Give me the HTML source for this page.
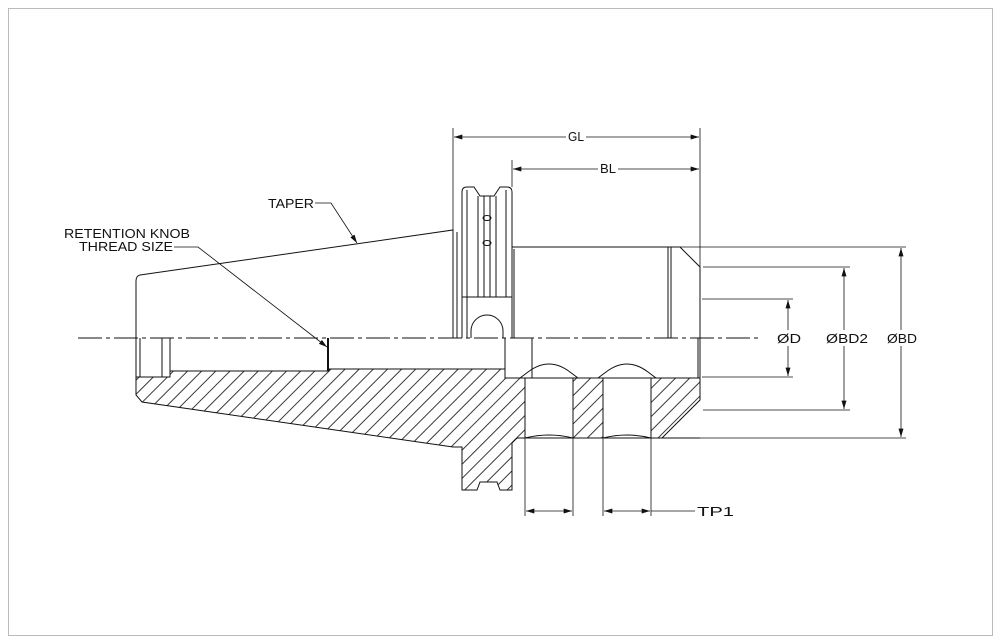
<!DOCTYPE html>
<html><head><meta charset="utf-8"><style>
html,body{margin:0;padding:0;background:#fff}
svg{display:block}
text{font-family:"Liberation Sans",sans-serif;font-size:13px;fill:#111}
</style></head><body>
<svg width="1001" height="644" viewBox="0 0 1001 644" xmlns="http://www.w3.org/2000/svg">
<defs>
<pattern id="h" patternUnits="userSpaceOnUse" width="10" height="10" patternTransform="rotate(-45)">
<line x1="0" y1="5" x2="10" y2="5" stroke="#222" stroke-width="0.9"/>
</pattern>
<marker id="a" viewBox="0 0 10 6" refX="10" refY="3" markerWidth="14" markerHeight="5" orient="auto-start-reverse" markerUnits="userSpaceOnUse"><path d="M0,0L10,3L0,6z" fill="#111"/></marker>
</defs>
<rect x="8.5" y="8.5" width="984" height="627" fill="#fff" stroke="#bbb" stroke-width="1"/>
<g stroke="#111" stroke-width="1" fill="none">
<path d="M136,377 L170,377 L170,371 L329,371 L329,369 L505,369 L505,378 L700,378 L700,400 L662,438 L517,438 L512,443 L512,490 L500,490 L497,482 L480,482 L477,490 L462,490 L462,447 L453,447 L142,402 L136,395 Z" fill="url(#h)"/>
<path d="M525,378 L525,438 L573,438 L573,378 Z" fill="#fff"/>
<path d="M603,378 L603,438 L651,438 L651,378 Z" fill="#fff"/>
<path d="M520,378 L528,372 Q549,356 570,372 L578,378 Z" fill="#fff"/>
<path d="M598,378 L606,372 Q627,356 648,372 L656,378 Z" fill="#fff"/>
<path d="M525,438 Q549,432 573,438 M603,438 Q627,432 651,438"/>
<line x1="505" y1="378" x2="700" y2="378"/>
<line x1="517" y1="438" x2="700" y2="438"/>
<path d="M140,275 L453,230 L453,338"/>
<path d="M136,395 L136,281 Q136,276 140,275"/>
<line x1="457" y1="232" x2="457" y2="338"/>
<line x1="162" y1="338" x2="162" y2="377"/><line x1="170" y1="338" x2="170" y2="371"/>
<line x1="140" y1="338" x2="140" y2="377"/>
<path d="M328,338 L328,371" stroke-width="2"/>
<path d="M462,338 L462,192 Q462,187 467,187 L474,187 L480,196 L494,196 L500,187 L507,187 Q512,187 512,192 L512,338"/>
<line x1="467" y1="190" x2="467" y2="338"/>
<line x1="478" y1="196" x2="478" y2="297"/><line x1="484" y1="196" x2="484" y2="297"/>
<line x1="490" y1="196" x2="490" y2="297"/><line x1="496" y1="196" x2="496" y2="297"/>
<line x1="506" y1="190" x2="506" y2="297"/>
<line x1="462" y1="297" x2="512" y2="297"/>
<ellipse cx="487" cy="218" rx="4" ry="2.5"/><ellipse cx="487" cy="243" rx="4" ry="2.5"/>
<path d="M471,338 L471,331 A16,16 0 0 1 503,331 L503,338"/>
<path d="M512,247 L680,247 L700,267 L700,378"/>
<line x1="514" y1="249" x2="514" y2="338"/>
<line x1="668" y1="247" x2="668" y2="338"/><line x1="671" y1="247" x2="671" y2="338"/>
<line x1="505" y1="338" x2="505" y2="378"/><line x1="532" y1="338" x2="532" y2="378"/>
<line x1="698" y1="338" x2="698" y2="378"/>
<line x1="700" y1="378" x2="700" y2="400"/>
<line x1="78" y1="338" x2="758" y2="338" stroke-dasharray="24,4,4,4"/>
<line x1="680" y1="247" x2="906" y2="247" stroke-width="0.8"/>
<line x1="703" y1="267" x2="850" y2="267" stroke-width="0.8"/>
<line x1="702" y1="299" x2="793" y2="299" stroke-width="0.8"/>
<line x1="702" y1="377" x2="793" y2="377" stroke-width="0.8"/>
<line x1="703" y1="410" x2="850" y2="410" stroke-width="0.8"/>
<line x1="700" y1="438" x2="906" y2="438" stroke-width="0.8"/>
<line x1="788" y1="330" x2="788" y2="300" marker-end="url(#a)" stroke-width="0.8"/>
<line x1="788" y1="346" x2="788" y2="376" marker-end="url(#a)" stroke-width="0.8"/>
<line x1="844" y1="330" x2="844" y2="268" marker-end="url(#a)" stroke-width="0.8"/>
<line x1="844" y1="346" x2="844" y2="409" marker-end="url(#a)" stroke-width="0.8"/>
<line x1="901" y1="330" x2="901" y2="248" marker-end="url(#a)" stroke-width="0.8"/>
<line x1="901" y1="346" x2="901" y2="437" marker-end="url(#a)" stroke-width="0.8"/>
<line x1="453" y1="128" x2="453" y2="230" stroke-width="0.8"/>
<line x1="700" y1="128" x2="700" y2="267" stroke-width="0.8"/>
<line x1="512" y1="160" x2="512" y2="187" stroke-width="0.8"/>
<line x1="566" y1="137" x2="454" y2="137" marker-end="url(#a)" stroke-width="0.8"/>
<line x1="586" y1="137" x2="699" y2="137" marker-end="url(#a)" stroke-width="0.8"/>
<line x1="598" y1="169" x2="513" y2="169" marker-end="url(#a)" stroke-width="0.8"/>
<line x1="618" y1="169" x2="699" y2="169" marker-end="url(#a)" stroke-width="0.8"/>
<line x1="525" y1="438" x2="525" y2="516" stroke-width="0.8"/>
<line x1="573" y1="438" x2="573" y2="516" stroke-width="0.8"/>
<line x1="603" y1="438" x2="603" y2="516" stroke-width="0.8"/>
<line x1="651" y1="438" x2="651" y2="516" stroke-width="0.8"/>
<line x1="549" y1="511" x2="526" y2="511" marker-end="url(#a)" stroke-width="0.8"/>
<line x1="549" y1="511" x2="572" y2="511" marker-end="url(#a)" stroke-width="0.8"/>
<line x1="627" y1="511" x2="604" y2="511" marker-end="url(#a)" stroke-width="0.8"/>
<line x1="627" y1="511" x2="650" y2="511" marker-end="url(#a)" stroke-width="0.8"/>
<line x1="651" y1="511" x2="695" y2="511" stroke-width="0.8"/>
<path d="M315,203 L331,203 L357,243" marker-end="url(#a)" stroke-width="0.8"/>
<path d="M174,247 L198,247 L327,347" marker-end="url(#a)" stroke-width="0.8"/>
</g>
<text x="268" y="208" textLength="46" lengthAdjust="spacingAndGlyphs">TAPER</text>
<text x="64" y="238" textLength="126" lengthAdjust="spacingAndGlyphs">RETENTION  KNOB</text>
<text x="79" y="251" textLength="94" lengthAdjust="spacingAndGlyphs">THREAD  SIZE</text>
<text x="568" y="141" textLength="16" lengthAdjust="spacingAndGlyphs">GL</text>
<text x="600" y="173" textLength="16" lengthAdjust="spacingAndGlyphs">BL</text>
<text x="697" y="516" textLength="37" lengthAdjust="spacingAndGlyphs">TP1</text>
<text x="777" y="343" textLength="24" lengthAdjust="spacingAndGlyphs">ØD</text>
<text x="826" y="343" textLength="42" lengthAdjust="spacingAndGlyphs">ØBD2</text>
<text x="887" y="343" textLength="30" lengthAdjust="spacingAndGlyphs">ØBD</text>
</svg>
</body></html>
